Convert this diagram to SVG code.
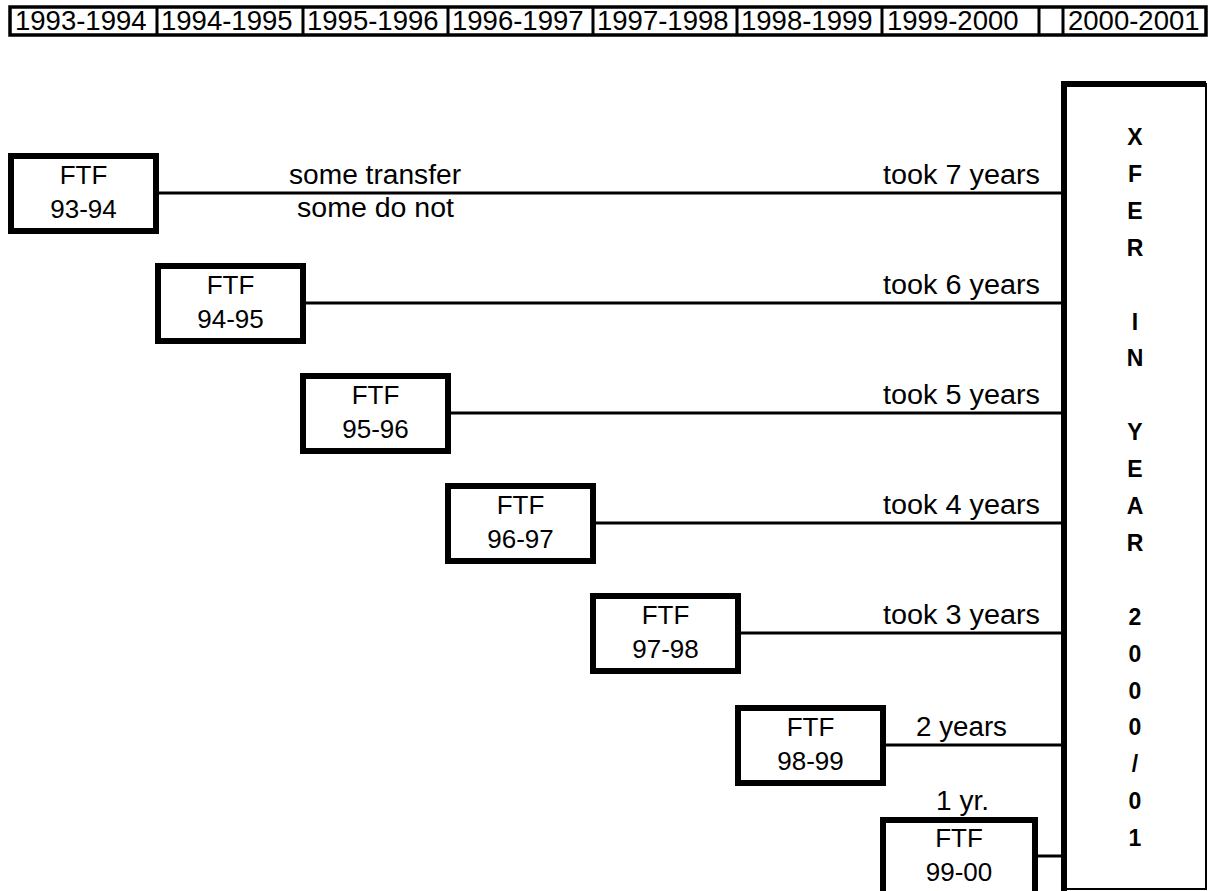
<svg xmlns="http://www.w3.org/2000/svg" width="1209" height="891" viewBox="0 0 1209 891">
<style>
text{font-family:"Liberation Sans",Arial,sans-serif;fill:#000}
.yr{font-size:27.5px}
.bar{fill:#fff;stroke:#000;stroke-width:3.5}
.sep{stroke:#000;stroke-width:3}
.box rect{fill:#fff;stroke:#000;stroke-width:6}
.box text{font-size:26px;text-anchor:middle}
.lbl{font-size:27px}
.end{text-anchor:end}
.mid{text-anchor:middle}
#connectors line{stroke:#000;stroke-width:3}
.v{font-size:23px;font-weight:bold;text-anchor:middle}
</style>
<rect width="1209" height="891" fill="#fff"/>
<g id="timeline">
<rect class="bar" x="10" y="7" width="1196" height="28"/>
<line class="sep" x1="157" y1="7" x2="157" y2="35"/>
<line class="sep" x1="303" y1="7" x2="303" y2="35"/>
<line class="sep" x1="448" y1="7" x2="448" y2="35"/>
<line class="sep" x1="593" y1="7" x2="593" y2="35"/>
<line class="sep" x1="737" y1="7" x2="737" y2="35"/>
<line class="sep" x1="882" y1="7" x2="882" y2="35"/>
<line class="sep" x1="1039" y1="7" x2="1039" y2="35"/>
<line class="sep" x1="1063" y1="7" x2="1063" y2="35"/>
<text class="yr" x="15" y="30">1993-1994</text>
<text class="yr" x="161" y="30">1994-1995</text>
<text class="yr" x="307" y="30">1995-1996</text>
<text class="yr" x="452" y="30">1996-1997</text>
<text class="yr" x="597" y="30">1997-1998</text>
<text class="yr" x="741" y="30">1998-1999</text>
<text class="yr" x="887" y="30">1999-2000</text>
<text class="yr" x="1068" y="30">2000-2001</text>
</g>
<g id="connectors">
<line x1="159" y1="193" x2="1064" y2="193"/>
<line x1="305" y1="303" x2="1064" y2="303"/>
<line x1="450" y1="413" x2="1064" y2="413"/>
<line x1="595" y1="523" x2="1064" y2="523"/>
<line x1="740" y1="633" x2="1064" y2="633"/>
<line x1="886" y1="745" x2="1064" y2="745"/>
<line x1="1038" y1="856" x2="1064" y2="856"/>
<text class="lbl" x="289" y="184" textLength="172" lengthAdjust="spacingAndGlyphs">some transfer</text>
<text class="lbl" x="297" y="217" textLength="157" lengthAdjust="spacingAndGlyphs">some do not</text>
<text class="lbl" x="883" y="184" textLength="157" lengthAdjust="spacingAndGlyphs">took 7 years</text>
<text class="lbl" x="883" y="294" textLength="157" lengthAdjust="spacingAndGlyphs">took 6 years</text>
<text class="lbl" x="883" y="404" textLength="157" lengthAdjust="spacingAndGlyphs">took 5 years</text>
<text class="lbl" x="883" y="514" textLength="157" lengthAdjust="spacingAndGlyphs">took 4 years</text>
<text class="lbl" x="883" y="624" textLength="157" lengthAdjust="spacingAndGlyphs">took 3 years</text>
<text class="lbl" x="916" y="736" textLength="91" lengthAdjust="spacingAndGlyphs">2 years</text>
<text class="lbl" x="936" y="810" textLength="53" lengthAdjust="spacingAndGlyphs">1 yr.</text>
</g>
<g id="ftf9394" class="box"><rect x="11" y="156" width="145" height="75"/><text x="83.5" y="184">FTF</text><text x="83.5" y="218">93-94</text></g>
<g id="ftf9495" class="box"><rect x="158" y="266" width="145" height="75"/><text x="230.5" y="294">FTF</text><text x="230.5" y="328">94-95</text></g>
<g id="ftf9596" class="box"><rect x="303" y="376" width="145" height="75"/><text x="375.5" y="404">FTF</text><text x="375.5" y="438">95-96</text></g>
<g id="ftf9697" class="box"><rect x="448" y="486" width="145" height="75"/><text x="520.5" y="514">FTF</text><text x="520.5" y="548">96-97</text></g>
<g id="ftf9798" class="box"><rect x="593" y="596" width="145" height="75"/><text x="665.5" y="624">FTF</text><text x="665.5" y="658">97-98</text></g>
<g id="ftf9899" class="box"><rect x="738" y="708" width="145" height="75"/><text x="810.5" y="736">FTF</text><text x="810.5" y="770">98-99</text></g>
<g id="ftf9900" class="box"><rect x="883" y="820" width="152" height="75"/><text x="959" y="847">FTF</text><text x="959" y="881">99-00</text></g>
<g id="xfer">
<rect x="1064" y="84" width="142" height="805" fill="#fff" stroke="#000" stroke-width="2"/>
<path d="M1064,891 V84 H1206" fill="none" stroke="#000" stroke-width="6"/>
<text class="v"><tspan x="1135" y="145">X</tspan><tspan x="1135" y="182">F</tspan><tspan x="1135" y="219">E</tspan><tspan x="1135" y="256">R</tspan><tspan x="1135" y="330">I</tspan><tspan x="1135" y="366">N</tspan><tspan x="1135" y="440">Y</tspan><tspan x="1135" y="477">E</tspan><tspan x="1135" y="514">A</tspan><tspan x="1135" y="551">R</tspan><tspan x="1135" y="625">2</tspan><tspan x="1135" y="662">0</tspan><tspan x="1135" y="699">0</tspan><tspan x="1135" y="735">0</tspan><tspan x="1135" y="772">/</tspan><tspan x="1135" y="809">0</tspan><tspan x="1135" y="846">1</tspan></text>
</g>
</svg>
